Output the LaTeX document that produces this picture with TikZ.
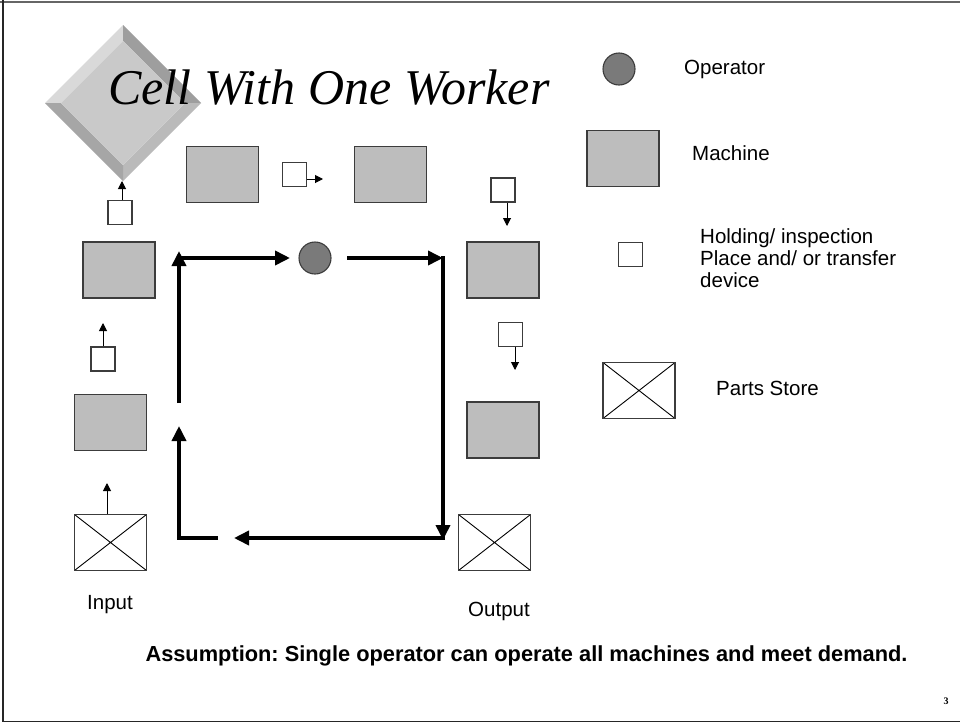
\documentclass[tikz,border=0pt]{standalone}
\usepackage{fontspec}
\setmainfont{Liberation Sans}
\newfontfamily\titlefont{Liberation Serif}
\usetikzlibrary{arrows.meta,calc}
\frenchspacing

\definecolor{machgray}{HTML}{BDBDBD}
\definecolor{edgegray}{HTML}{3C3C3C}
\definecolor{opgray}{HTML}{7A7A7A}

\tikzset{
  machine/.style={draw=edgegray, fill=machgray, line width=1.2pt,
    minimum width=72pt, minimum height=56pt, inner sep=0pt},
  holder/.style={draw=edgegray, fill=white, line width=1.1pt,
    minimum width=24pt, minimum height=24pt, inner sep=0pt},
  store/.style={draw=edgegray, fill=white, line width=1.1pt,
    minimum width=72pt, minimum height=56pt, inner sep=0pt,
    path picture={\draw[black, line width=0.9pt]
      (path picture bounding box.north west) -- (path picture bounding box.south east)
      (path picture bounding box.south west) -- (path picture bounding box.north east);}},
  operator/.style={circle, draw=edgegray, fill=opgray, line width=1.1pt,
    minimum size=32pt, inner sep=0pt},
  feed/.style={line width=1pt, -{Triangle[length=8pt,width=8pt]}},
  walk/.style={line width=3.6pt, -{Triangle[length=15pt,width=14pt]}},
  walkline/.style={line width=3.6pt},
  label/.style={font=\fontsize{20.5}{22}\selectfont, inner sep=0pt, anchor=west},
}

\begin{document}
\begin{tikzpicture}[x=1pt,y=-1pt]
\useasboundingbox (0,0) rectangle (960,723);
\fill[white] (0,0) rectangle (960,723);

% slide frame
\draw[gray!80!black, line width=1.5pt] (0,2) -- (960,2);
\draw[black!85, line width=1.5pt] (3,0) -- (3,721.5) -- (960,721.5);

% bevelled diamond behind the title
\fill[black!15] (123,25) -- (45,103) -- (61,103) -- (123,41) -- cycle;
\fill[black!38] (123,25) -- (201,103) -- (185,103) -- (123,41) -- cycle;
\fill[black!27] (201,103) -- (123,181) -- (123,165) -- (185,103) -- cycle;
\fill[black!35] (45,103) -- (123,181) -- (123,165) -- (61,103) -- cycle;
\fill[black!21] (123,41) -- (185,103) -- (123,165) -- (61,103) -- cycle;
\coordinate (dia) at (122,181);

% title
\node[anchor=base west, inner sep=0pt, font=\titlefont\itshape\fontsize{50}{56}\selectfont]
  (title) at (108,104) {Cell With One Worker};

% machines in the cell
\node[machine] (m1) at (110.5,422.5) {};
\node[machine] (m2) at (119,270) {};
\node[machine] (m3) at (222.5,174.5) {};
\node[machine] (m4) at (390.5,174.5) {};
\node[machine] (m5) at (503,270) {};
\node[machine] (m6) at (503,430) {};

% parts stores
\node[store] (in)  at (110.5,542.5) {};
\node[store] (out) at (494.5,542.5) {};

% holding places between machines
\node[holder] (h1) at (103,359) {};
\node[holder] (h2) at (120,212.5) {};
\node[holder] (h3) at (294.5,174.5) {};
\node[holder] (h4) at (503,190) {};
\node[holder] (h5) at (510.5,334.5) {};

% part flow
\coordinate (t0) at (107,483);
\coordinate (t1) at (103,323);
\coordinate (t3) at (323,179);
\coordinate (t4) at (507,226);
\coordinate (t5) at (515,370);
\draw[feed] (in.north -| t0) -- (t0);
\draw[feed] (h1.north) -- (t1);
\draw[feed] (h2.north -| dia) -- (dia);
\draw[feed] (h3.east |- t3) -- (t3);
\draw[feed] (h4.south -| t4) -- (t4);
\draw[feed] (h5.south -| t5) -- (t5);

% operator and walking route
\node[operator] (op) at (315,258) {};
\coordinate (w1) at (179,403);
\coordinate (w2) at (179,251);
\coordinate (w3) at (177,258);
\coordinate (w4) at (290,258);
\coordinate (w5) at (347,258);
\coordinate (w6) at (443,258);
\coordinate (w7) at (443,540);
\coordinate (w8) at (445,538);
\coordinate (w9) at (234,538);
\coordinate (w10) at (218,538);
\coordinate (w11) at (179,538);
\coordinate (w12) at (179,426);
\draw[walk] (w1) -- (w2);
\draw[walk] (w3) -- (w4);
\draw[walk] (w5) -- (w6);
\draw[walkline] ($(w6)+(0,-1.8)$) -- (w6);
\draw[walk] (w6) -- (w7);
\draw[walk] (w8) -- (w9);
\draw[walk, line join=miter] (w10) -- (w11) -- (w12);

% labels under the stores
\node[font=\fontsize{20.5}{22}\selectfont, inner sep=0pt] (inlab) at (110,605) {Input};
\node[font=\fontsize{20.5}{22}\selectfont, inner sep=0pt] (outlab) at (499,611) {Output};

% legend
\node[operator] (lop) at (619,69) {};
\node[machine] (lm) at (623,158.5) {};
\node[holder] (lh) at (630.5,254.5) {};
\node[store] (ls) at (639,390.5) {};
\node[label] (lopt) at (684,69) {Operator};
\node[label] (lmt) at (692,153) {Machine};
\node[label, align=left, anchor=north west] (lht) at (700,228) {Holding/ inspection\\Place and/ or transfer\\device};
\node[label] (lst) at (716,388) {Parts Store};

% note
\node[font=\bfseries\fontsize{21.8}{24}\selectfont, inner sep=0pt] (note) at (526.5,656)
  {Assumption: Single operator can operate all machines and meet demand.};

% page number
\node[font=\titlefont\bfseries\fontsize{10}{12}\selectfont, inner sep=0pt] (pg) at (946,701) {3};
\end{tikzpicture}
\end{document}
